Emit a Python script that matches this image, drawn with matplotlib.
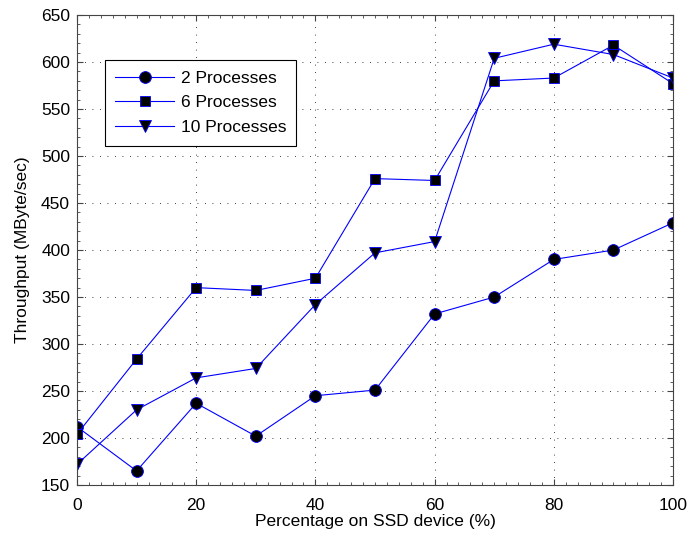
import numpy as np
import matplotlib
matplotlib.use("Agg")
import matplotlib.pyplot as plt
from matplotlib.ticker import MultipleLocator

plt.rcParams['font.family'] = ['Liberation Sans', 'DejaVu Sans']
plt.rcParams['font.size'] = 12.5

pct = [0, 10, 20, 30, 40, 50, 60, 70, 80, 90, 100]
p2 = [212, 165, 237, 202, 245, 251, 332, 350, 390, 400, 429]
p6 = [204, 284, 360, 357, 370, 476, 474, 580, 583, 618, 577]
p10 = [172, 230, 264, 274, 342, 397, 409, 604, 619, 608, 583]

fig = plt.figure(figsize=(6.91, 5.38), dpi=100)
ax = fig.add_axes([0.1114, 0.0985, 0.8626, 0.8735])

ax.plot(pct, p2, color='blue', lw=0.8, marker='o', ms=8.5,
        mfc='black', mec='blue', mew=0.6, label='2 Processes')
ax.plot(pct, p6, color='blue', lw=0.8, marker='s', ms=7,
        mfc='black', mec='blue', mew=0.6, label='6 Processes')
ax.plot(pct, p10, color='blue', lw=0.8, marker='v', ms=9,
        mfc='black', mec='blue', mew=0.6, label='10 Processes')

ax.set_xlim(0, 100)
ax.set_ylim(150, 650)
ax.xaxis.set_major_locator(MultipleLocator(20))
ax.yaxis.set_major_locator(MultipleLocator(50))
ax.xaxis.set_minor_locator(MultipleLocator(2))
ax.yaxis.set_minor_locator(MultipleLocator(10))
ax.tick_params(which='both', direction='in', top=True, right=True, color='#444444')
ax.tick_params(which='major', length=4)
ax.tick_params(axis='x', which='major', pad=9)
ax.tick_params(axis='y', which='major', pad=5)
ax.tick_params(which='minor', length=2)
for s in ax.spines.values():
    s.set_color('#444444')
ax.grid(True, which='major', linestyle=(0, (1, 8)), color='black', lw=0.6)

ax.set_xlabel('Percentage on SSD device (%)', labelpad=1)
ax.set_ylabel('Throughput (MByte/sec)', labelpad=8)

leg = ax.legend(loc='upper left', bbox_to_anchor=(0.047, 0.904),
                borderaxespad=0, fancybox=False, framealpha=1,
                edgecolor='black', handlelength=3.4, labelspacing=0.55,
                borderpad=0.6, handletextpad=0.35)
leg.get_frame().set_linewidth(0.8)

fig.savefig('out.png', dpi=100)
